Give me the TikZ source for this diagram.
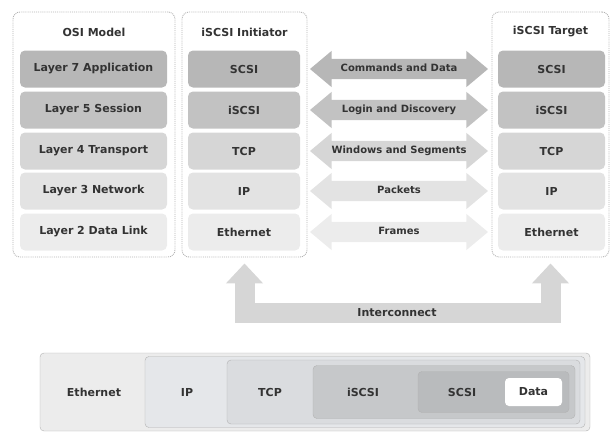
\documentclass[tikz,border=0pt]{standalone}
\usepackage{fontspec}
\setmainfont{DejaVu Sans}
\usetikzlibrary{shapes.arrows,arrows.meta}
\definecolor{tone1}{HTML}{B7B7B7}
\definecolor{tone2}{HTML}{C2C2C2}
\definecolor{tone3}{HTML}{D6D6D6}
\definecolor{tone4}{HTML}{E3E3E3}
\definecolor{tone5}{HTML}{ECECEC}
\definecolor{wrapIP}{HTML}{E5E7EA}
\definecolor{wrapTCP}{HTML}{DADCDF}
\definecolor{wrapISCSI}{HTML}{C6C8CA}
\definecolor{wrapSCSI}{HTML}{B9BBBD}
\begin{document}
\begin{tikzpicture}[
			x=1pt, y=-1pt,
			font=\fontsize{11}{13}\selectfont\bfseries, text=black!80,
			panel/.style = {draw=gray!60, line width=0.9pt, densely dotted, rounded corners=7pt, minimum height=245pt},
			layer/.style = {rounded corners=5pt, minimum height=37pt},
			osi/.style = {layer, minimum width=147pt},
			ini/.style = {layer, minimum width=112pt},
			tgt/.style = {layer, minimum width=107pt},
			flow/.style = {double arrow, double arrow head extend=8pt, double arrow tip angle=80,
				minimum height=178pt, inner xsep=0pt, inner ysep=6pt, text height=6.5pt, text depth=1.5pt,
				font=\fontsize{10}{12}\selectfont\bfseries},
			frame/.style = {draw=gray!60, rounded corners=4pt},
			]
			\useasboundingbox (0,0) rectangle (611,437);
			% three columns
			\node[panel, minimum width=162pt] (osiPanel) at (94,134.5) {};
			\node[panel, minimum width=125pt] (iniPanel) at (244.5,134.5) {};
			\node[panel, minimum width=117pt] (tgtPanel) at (550.5,134.5) {};
			\node (osiTitle) at (94,32) {OSI Model};
			\node (iniTitle) at (244.5,32) {iSCSI Initiator};
			\node (tgtTitle) at (550.5,32) {iSCSI Target};
			
			\node[osi, fill=tone1] (osi7) at (93.5,69) {Layer 7 Application};
			\node[osi, fill=tone2] (osi5) at (93.5,110) {Layer 5 Session};
			\node[osi, fill=tone3] (osi4) at (93.5,151) {Layer 4 Transport};
			\node[osi, fill=tone4] (osi3) at (93.5,191) {Layer 3 Network};
			\node[osi, fill=tone5] (osi2) at (93.5,232) {Layer 2 Data Link};
			
			\node[ini, fill=tone1] (iniSCSI) at (244,69) {SCSI};
			\node[ini, fill=tone2] (iniISCSI) at (244,110) {iSCSI};
			\node[ini, fill=tone3] (iniTCP) at (244,151) {TCP};
			\node[ini, fill=tone4] (iniIP) at (244,191) {IP};
			\node[ini, fill=tone5] (iniEth) at (244,232) {Ethernet};
			
			\node[tgt, fill=tone1] (tgtSCSI) at (551.5,69) {SCSI};
			\node[tgt, fill=tone2] (tgtISCSI) at (551.5,110) {iSCSI};
			\node[tgt, fill=tone3] (tgtTCP) at (551.5,151) {TCP};
			\node[tgt, fill=tone4] (tgtIP) at (551.5,191) {IP};
			\node[tgt, fill=tone5] (tgtEth) at (551.5,232) {Ethernet};
			
			% peer exchanges
			\node[flow, fill=tone1] (cmd) at (399,69) {Commands and Data};
			\node[flow, fill=tone2] (login) at (399,110) {Login and Discovery};
			\node[flow, fill=tone3] (win) at (399,151) {Windows and Segments};
			\node[flow, fill=tone4] (pkt) at (399,191) {Packets};
			\node[flow, fill=tone5] (frm) at (399,232) {Frames};
			
			% interconnect
			\coordinate (link) at (397,313);
			\draw[line width=20pt, draw=tone3,
				{Triangle[width=36pt,length=20pt]}-{Triangle[width=36pt,length=20pt]}]
				([yshift=-6pt]iniPanel.south) |- (link) -| ([yshift=-6pt]tgtPanel.south);
			\node (linkText) at (link) {Interconnect};
			
			% encapsulation
			\node[frame, fill=tone5, minimum width=550pt, minimum height=78pt] (ethBox) at (315,392) {};
			\node[frame, fill=wrapIP, minimum width=440pt, minimum height=71pt] (ipBox) at (365,392) {};
			\node[frame, fill=wrapTCP, minimum width=353pt, minimum height=64pt] (tcpBox) at (403.5,392) {};
			\node[frame, fill=wrapISCSI, minimum width=262pt, minimum height=53pt] (iscsiBox) at (444,392) {};
			\node[frame, fill=wrapSCSI, minimum width=151pt, minimum height=41pt] (scsiBox) at (493.5,392) {};
			\node[frame, draw=none, fill=white, minimum width=57pt, minimum height=28pt] (dataBox) at (533.5,392) {Data};
			\node (ethText) at (94,392) {Ethernet};
			\node (ipText) at (187,392) {IP};
			\node (tcpText) at (270,392) {TCP};
			\node (iscsiText) at (363,392) {iSCSI};
			\node (scsiText) at (462,392) {SCSI};
		\end{tikzpicture}
\end{document}
